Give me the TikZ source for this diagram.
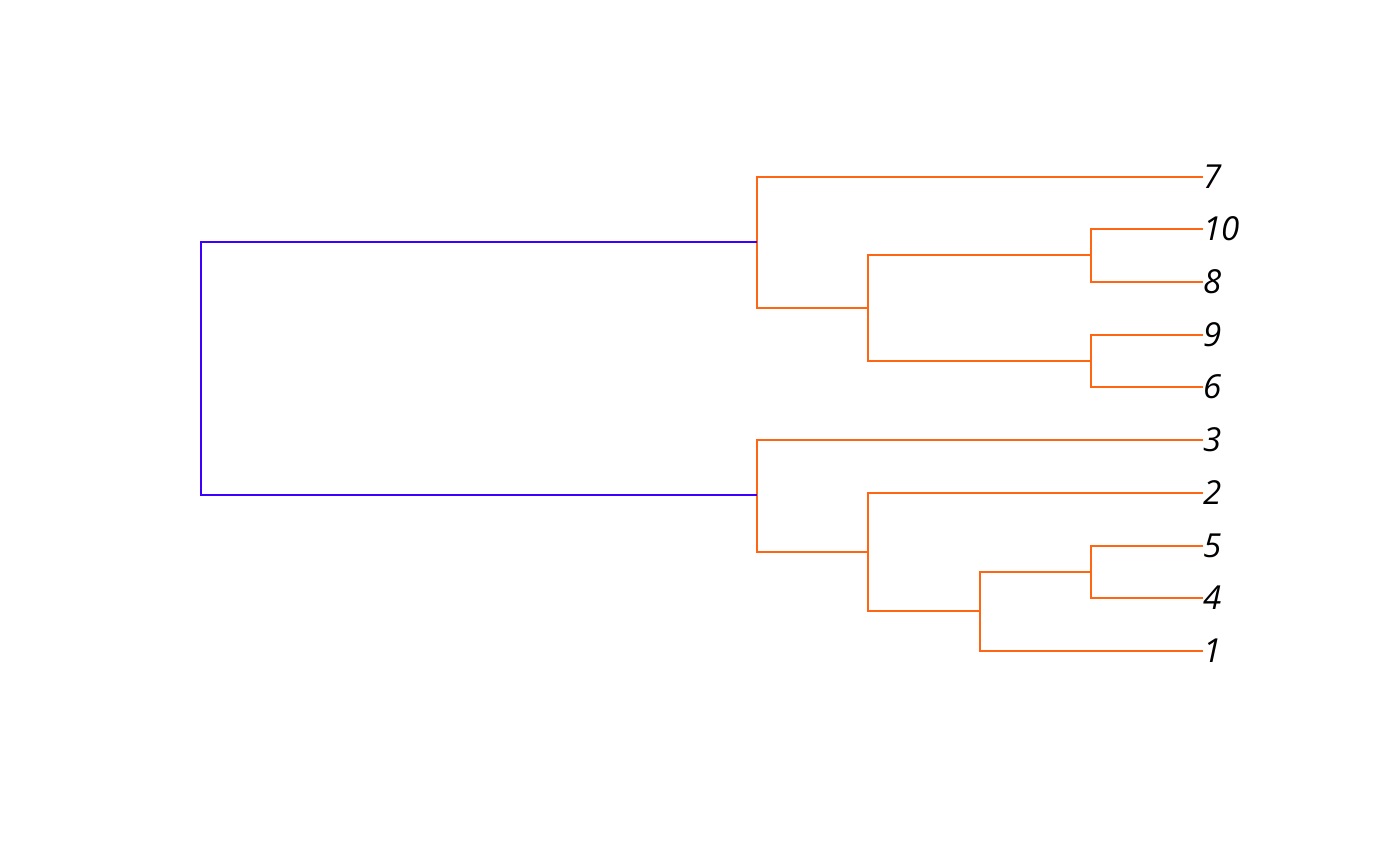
\documentclass[tikz,border=0pt]{standalone}
\usepackage{fontspec}
\setmainfont{Open Sans}
\definecolor{treeorange}{RGB}{255,102,20}
\definecolor{treeblue}{RGB}{60,0,255}
\tikzset{
  leaf/.style={anchor=west, inner sep=0pt, outer sep=0pt, font=\fontsize{9.4}{11}\selectfont\itshape},
  branch/.style={draw=treeorange, line width=0.6pt},
  rootbranch/.style={draw=treeblue, line width=0.6pt}
}
\begin{document}
\begin{tikzpicture}[x=0.01cm, y=-0.01cm]
    \useasboundingbox (0,0) rectangle (1400,866);
    % leaves
    \node [leaf] (t7) at (1203,177) {7};
    \node [leaf] (t10) at (1203,229) {10};
    \node [leaf] (t8) at (1203,282) {8};
    \node [leaf] (t9) at (1203,335) {9};
    \node [leaf] (t6) at (1203,387) {6};
    \node [leaf] (t3) at (1203,440) {3};
    \node [leaf] (t2) at (1203,493) {2};
    \node [leaf] (t5) at (1203,546) {5};
    \node [leaf] (t4) at (1203,598) {4};
    \node [leaf] (t1) at (1203,651) {1};
    % merges
    \coordinate (root) at (201,368);
    \coordinate (a) at (757,242);
    \coordinate (b) at (757,495);
    \coordinate (c) at (868,308);
    \coordinate (d) at (1091,255);
    \coordinate (e) at (1091,361);
    \coordinate (f) at (868,552);
    \coordinate (g) at (980,611);
    \coordinate (h) at (1091,572);
    % upper cluster
    \path[branch] (t7.west) -| (a);
    \path[branch] (c) -| (a);
    \path[branch] (d) -| (c);
    \path[branch] (e) -| (c);
    \path[branch] (t10.west) -| (d);
    \path[branch] (t8.west) -| (d);
    \path[branch] (t9.west) -| (e);
    \path[branch] (t6.west) -| (e);
    % lower cluster
    \path[branch] (t3.west) -| (b);
    \path[branch] (f) -| (b);
    \path[branch] (t2.west) -| (f);
    \path[branch] (g) -| (f);
    \path[branch] (h) -| (g);
    \path[branch] (t1.west) -| (g);
    \path[branch] (t5.west) -| (h);
    \path[branch] (t4.west) -| (h);
    % root
    \path[rootbranch] (a) -| (root) |- (b);
\end{tikzpicture}
\end{document}
